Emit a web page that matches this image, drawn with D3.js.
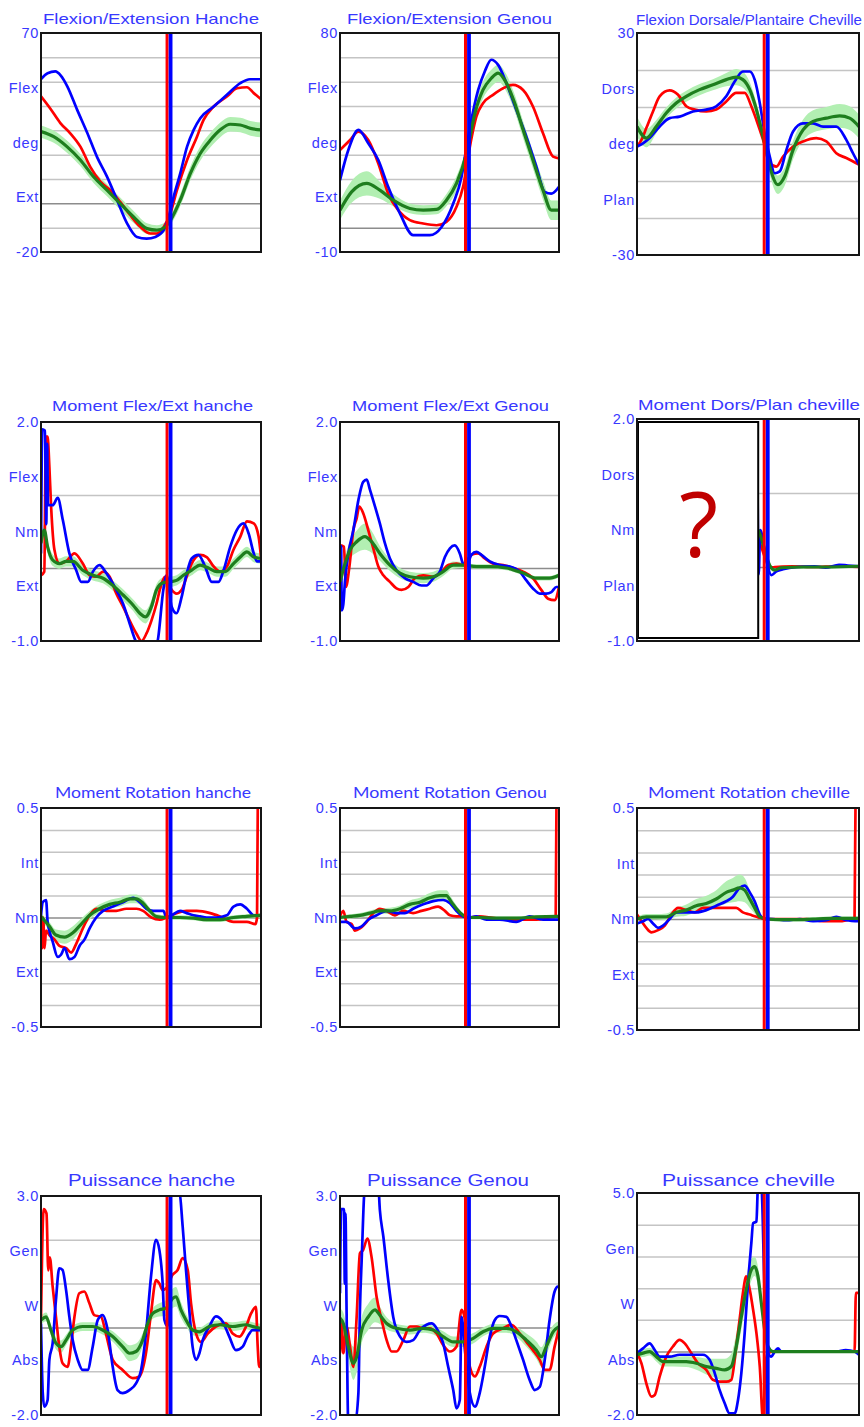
<!DOCTYPE html>
<html><head><meta charset="utf-8">
<script src="https://cdn.jsdelivr.net/npm/d3@7"></script>
<style>body{margin:0;background:#fff}svg{display:block}</style>
</head><body>
<svg id="chart" width="864" height="1427"></svg>
<script>
// ---------------- DATA (x = % of gait cycle) ----------------
const titles = ["Flexion/Extension Hanche","Flexion/Extension Genou","Flexion Dorsale/Plantaire Cheville",
  "Moment Flex/Ext hanche","Moment Flex/Ext Genou","Moment Dors/Plan cheville",
  "Moment Rotation hanche","Moment Rotation Genou","Moment Rotation cheville",
  "Puissance hanche","Puissance Genou","Puissance cheville"];
const yTopLabels = ["70","80","30","2.0","2.0","2.0","0.5","0.5","0.5","3.0","3.0","5.0"];
const yBottomLabels = ["-20","-10","-30","-1.0","-1.0","-1.0","-0.5","-0.5","-0.5","-2.0","-2.0","-2.0"];
const yMaxValues = [70,80,30,2,2,2,0.5,0.5,0.5,3,3,5];
const yMinValues = [-20,-10,-30,-1,-1,-1,-0.5,-0.5,-0.5,-2,-2,-2];
const gridSteps = [10,10,10,1,1,1,0.1,0.1,0.1,1,1,1];
const midLabels = [["Flex","deg","Ext"],["Flex","deg","Ext"],["Dors","deg","Plan"],
  ["Flex","Nm","Ext"],["Flex","Nm","Ext"],["Dors","Nm","Plan"],
  ["Int","Nm","Ext"],["Int","Nm","Ext"],["Int","Nm","Ext"],
  ["Gen","W","Abs"],["Gen","W","Abs"],["Gen","W","Abs"]];
const toeOffRed = 57.3;
const toeOffBlue = 58.9;

const hipFlexRed = [[0,44],[4.2,39],[8.8,33],[13.3,28.8],[17.9,23.3],[22.4,15],[27,8.9],[31.5,5.4],[36,0.6],[40.6,-4.9],[45.2,-9.7],[49.7,-12.4],[52.7,-12.4],[55.8,-9.7],[58.8,-4.2],[61.8,5.4],[66.4,17.8],[70.9,27.4],[73.9,34.3],[78.5,39.8],[84.5,43.9],[89.1,47.3],[93.6,47.7],[96.7,45.3],[100,42.8]];
const hipFlexBlue = [[0,51],[3,53.5],[6.5,54.2],[9,52.5],[12,48],[16.4,38.5],[21,29],[25.5,19],[30,11],[34.5,1.5],[39,-8],[43.6,-13.8],[48,-14.5],[52,-13.8],[55.8,-11],[58,-5.6],[60.3,2.7],[63.3,12.3],[66.4,23.3],[69.4,30.2],[72.4,35],[78.5,39.8],[84.5,44.6],[90.6,49.4],[95,51],[100,51]];
const hipFlexGreen = [[0,29.5,2.5],[5.8,27.4,2.5],[11.8,23.3,2.5],[17.9,17.8,2.5],[23.9,10.9,2.5],[30,5.4,2.5],[36,-0.1,2.5],[42.1,-5.6,2.5],[48.2,-10.4,2.2],[52.7,-11,2],[56.5,-9.7,2],[58.8,-7,2],[63.3,1.3,2.5],[67.9,12.3,2.8],[72.4,20.5,3],[77,26,3],[81.5,30.2,3],[86,32.5,3],[90.6,32.2,3],[95.2,30.8,3],[100,30.2,3]];

const kneeFlexRed = [[0,31.9],[4.6,36],[8.4,39.5],[12.9,36],[17.5,26.4],[22,14],[26.6,7.2],[31.9,3.1],[38,1.7],[44.1,1],[48.6,2.4],[53.2,8.6],[56.2,16.8],[59.3,33.3],[62.3,45.7],[65.3,51.1],[69.9,54.6],[74.5,57.3],[79,58.7],[83.6,56.6],[88.1,49.8],[92.7,38.8],[97.3,29.2],[100,28.5]];
const kneeFlexBlue = [[0,19.5],[3.8,31.9],[8.4,40.2],[12.9,34.7],[17.5,27.8],[22,16.8],[27.4,5.8],[33.4,-3.1],[41,-3.1],[46.4,0.3],[51.7,9.9],[55.5,20.9],[57.8,33.3],[60,44.3],[63.1,56.6],[66.1,64.2],[69.1,69],[72.2,66.9],[76,59.4],[80.5,48.4],[85.1,37.4],[89.7,25],[93.5,14.7],[96.5,14],[100,16.8]];
const kneeFlexGreen = [[0,7.2,4],[5.3,14.7,4.5],[12.2,18.2,5],[18.2,15.4,3.5],[24.3,11.3,2.5],[31.9,7.9,2],[38,7.2,2],[44.1,7.5,2],[48.6,11.3,2.5],[53.2,18.2,3],[57.8,30.5,3],[61.6,47,3],[65.3,56.6,3.5],[69.1,61.4,3.5],[72.2,63.5,3.5],[76,59.4,3.5],[79.8,51.1,3.5],[83.6,40.2,3.5],[88.1,27.8,3.5],[92.7,15.4,4],[96.5,7.2,4],[100,7.2,4]];

const ankleFlexRed = [[0,-0.7],[2,1.1],[4.2,4.3],[7.2,8.8],[10.2,12.9],[14.7,14.5],[18.5,13.3],[22.2,10.2],[26,9.3],[31.2,8.8],[35.7,9.3],[40.2,11.5],[44.7,13.8],[48.5,13.8],[51.5,10.2],[53.8,6.5],[56.8,1.1],[59.8,-5.2],[62.8,-6.1],[65.8,-3.4],[70.3,-0.7],[74.8,0.7],[80.8,1.6],[85.3,0.7],[89.8,-2.5],[94.3,-3.8],[98.8,-5.2],[100,-5.6]];
const ankleFlexBlue = [[0,-0.7],[2.7,0.2],[5.7,1.6],[10.2,4.7],[14.7,7],[19.2,7.4],[25.2,8.8],[31.2,9.3],[35.7,10.2],[40.2,12.9],[44,16.9],[47.7,19.6],[50.8,19.6],[53,17.4],[55.3,11.1],[57.5,2.9],[59.8,-3.4],[62,-7.9],[64.3,-7.4],[67.3,-1.6],[70.3,3.4],[74.8,5.6],[79.3,5.6],[83.8,4.7],[89.8,4.7],[94.3,1.1],[97.3,-2.5],[100,-5.6]];
const ankleFlexGreen = [[0,4.7,2.7],[4.2,1.6,2.5],[8.7,4.7,1.8],[13.2,8.4,1.5],[17.7,11.1,1.5],[22.2,12.9,1.5],[28.2,14.7,1.5],[34.2,16,1.5],[40.2,17.4,1.8],[44.7,18.1,2.2],[47.7,17.4,2.2],[50.8,14.7,2],[53.8,9.3,1.8],[56.8,2,1.8],[59.8,-6.1,2.2],[63.5,-11,2.5],[66.5,-8.8,2.5],[70.3,-1.6,2.5],[74.8,3.8,2.8],[79.3,6.1,3],[85.3,7,3],[91.3,7.6,3.2],[95.8,7,3.2],[100,4.7,3.2]];

const hipMomRed = [[0,-0.1],[1.5,-0.05],[2.2,1.8],[3,1.8],[3.8,1.39],[4.6,0.84],[6.1,0.25],[8.4,0.06],[11.4,0.09],[15.2,0.2],[19,0.06],[22.1,-0.1],[25.1,-0.12],[28.2,-0.05],[31.2,-0.12],[34.2,-0.35],[37.3,-0.53],[40.3,-0.72],[43.4,-0.9],[45.7,-1.0],[47.9,-0.9],[50.2,-0.72],[52.5,-0.49],[54,-0.3],[56.3,-0.12],[59.4,-0.3],[61.6,-0.35],[63.9,-0.3],[66.2,-0.12],[68.5,0.06],[72.3,0.18],[75.3,0.15],[78.5,0.02],[81.4,-0.05],[84.5,0.02],[87.5,0.25],[90.6,0.43],[93.6,0.64],[96.7,0.61],[98.9,0.43],[100,0.15]];
const hipMomBlue = [[0,0.2],[0.6,1.9],[1.8,1.88],[2.4,0.6],[2.8,1.7],[3.2,0.86],[5.3,0.86],[7.6,0.96],[9.9,0.66],[12.9,0.2],[16,-0.03],[18.3,-0.19],[21.3,-0.19],[23.6,-0.05],[26.6,0.04],[29.7,-0.07],[33.5,-0.26],[37.3,-0.49],[40.3,-0.76],[42.6,-0.97],[44.9,-1.1],[48,-1.3],[51,-1.2],[53.3,-0.95],[55.6,-0.3],[57.1,-0.1],[59.4,-0.53],[61.6,-0.62],[63.9,-0.4],[66.2,-0.08],[68.5,0.13],[71.5,0.18],[74.6,0.02],[77.6,-0.19],[80.7,-0.19],[83,-0.03],[86,0.29],[89,0.52],[92.1,0.61],[94.4,0.47],[96.7,0.2],[98.2,0.09],[100,0.09]];
const hipMomGreen = [[0,0.34,0.08],[1.5,0.52,0.08],[3,0.29,0.08],[5.3,0.11,0.08],[8.4,0.06,0.07],[11.4,0.09,0.07],[14.5,0.09,0.07],[19,-0.03,0.07],[23.6,-0.1,0.07],[28.2,-0.14,0.07],[32.7,-0.24,0.07],[37.3,-0.37,0.08],[41.9,-0.51,0.08],[44.9,-0.62,0.09],[47.5,-0.67,0.09],[50.2,-0.53,0.09],[52.5,-0.3,0.08],[55.6,-0.2,0.07],[58.6,-0.19,0.07],[61.6,-0.17,0.07],[64.7,-0.1,0.07],[68.5,-0.03,0.07],[72.3,0.04,0.07],[76.1,0,0.07],[79.9,-0.05,0.07],[83.7,-0.05,0.07],[87.5,0.06,0.07],[90.6,0.15,0.07],[93.6,0.22,0.07],[96.7,0.15,0.07],[100,0.13,0.07]];

const kneeMomRed = [[0,-0.21],[0.3,0.31],[1.8,0.29],[2.7,-0.26],[4.3,0.02],[6.1,0.52],[7.6,0.68],[8.8,0.84],[10.6,0.75],[12.9,0.52],[15.2,0.27],[17.5,0.02],[19.8,-0.1],[22.8,-0.19],[25.8,-0.28],[28.1,-0.3],[31.2,-0.26],[34.2,-0.14],[38,-0.1],[42.6,-0.12],[46.4,-0.05],[49.4,0.04],[53.2,0.06],[56.2,0.04],[60,0.18],[63.1,0.2],[66.1,0.13],[69.9,0.06],[74.5,0.04],[79,0],[83.6,-0.05],[88.1,-0.14],[91.9,-0.3],[95,-0.42],[98,-0.44],[100,-0.26]];
const kneeMomBlue = [[0,-0.05],[0.5,0.3],[0.8,-0.58],[1.5,-0.5],[2.3,-0.17],[3.8,0.2],[6.1,0.52],[8.4,0.93],[10.6,1.18],[12.2,1.21],[13.7,1.07],[16,0.84],[18.2,0.61],[20.5,0.34],[22.8,0.13],[25.8,-0.03],[29.6,-0.14],[33.4,-0.19],[37.2,-0.24],[39.5,-0.24],[42.6,-0.14],[45.6,-0.05],[47.9,0.15],[50.2,0.27],[52.4,0.31],[54.7,0.2],[56.2,0.06],[57.8,0.04],[60,0.18],[62.3,0.22],[64.6,0.18],[68.4,0.09],[72.9,0.04],[77.5,0.02],[82.1,-0.05],[85.1,-0.17],[88.1,-0.28],[91.2,-0.35],[94.2,-0.35],[96.5,-0.33],[98.8,-0.26],[100,-0.26]];
const kneeMomGreen = [[0,-0.19,0.08],[2.3,0.06,0.1],[4.6,0.25,0.12],[7.6,0.36,0.15],[11.4,0.43,0.18],[14.4,0.36,0.15],[18.2,0.2,0.1],[22.8,0.04,0.08],[27.4,-0.07,0.07],[31.9,-0.12,0.07],[38,-0.14,0.07],[42.6,-0.12,0.07],[47.1,-0.05,0.06],[51.7,0.04,0.05],[56.2,0.04,0.04],[62.3,0.02,0.03],[68.4,0.02,0.03],[76,0,0.03],[83.6,-0.07,0.03],[89.7,-0.14,0.03],[95.7,-0.14,0.03],[100,-0.1,0.03]];

const ankleMomRed = [[54.3,0.35],[55.3,0.32],[57.5,0.14],[59.8,-0.01],[62,0],[70,0.01],[80,0],[90,0.01],[100,0]];
const ankleMomBlue = [[54.3,1.05],[54.8,-0.1],[55.5,0.5],[57.5,0.23],[59,0],[60.5,-0.11],[62.8,-0.06],[65.8,-0.03],[72,0],[80,0.01],[85,-0.01],[91,0.03],[95,0.02],[100,0.01]];
const ankleMomGreen = [[54.5,0.5,0.05],[55.3,0.45,0.05],[57.5,0.23,0.05],[59.8,0.02,0.04],[62,-0.04,0.03],[65,-0.01,0.03],[75,0,0.02],[85,0,0.02],[100,0.01,0.02]];

const hipRotRed = [[0,-0.004],[0.5,-0.14],[1,0.0],[1.6,-0.14],[2.3,-0.06],[3.8,-0.08],[6.1,-0.1],[8.4,-0.13],[11.4,-0.14],[13.7,-0.16],[16,-0.12],[19,-0.05],[22.1,0.01],[25.1,0.04],[29.7,0.03],[34.2,0.03],[38.8,0.04],[43.4,0.04],[46.4,0.03],[50.2,0],[54,-0.01],[57.1,0],[61.6,0.02],[66.2,0.03],[70.8,0.03],[76.9,0.02],[81.4,0.005],[87.5,-0.02],[93.6,-0.02],[97.5,-0.03],[98.2,0],[98.6,0.6]];
const hipRotBlue = [[0,0.01],[0.8,0.07],[2.3,0.08],[3,-0.02],[3.8,-0.06],[5.3,-0.11],[7.6,-0.18],[9.1,-0.17],[10.7,-0.14],[12.9,-0.19],[15.2,-0.18],[17.5,-0.13],[19.8,-0.1],[22.1,-0.05],[25.1,0],[28.2,0.03],[32.7,0.05],[37.3,0.07],[41.9,0.09],[44.9,0.07],[47.9,0.04],[51,0.03],[55.6,0.03],[57.1,0],[59.4,0.01],[63.2,0.03],[66.2,0.02],[69.3,0.01],[72.3,0.005],[75.3,0],[79.9,0],[84.5,0.01],[87.5,0.05],[90.6,0.06],[93.6,0.04],[96.7,0.01],[100,0.01]];
const hipRotGreen = [[0,0.004,0.015],[3.8,-0.04,0.02],[6.8,-0.08,0.025],[10.7,-0.09,0.03],[14.5,-0.07,0.03],[18.3,-0.03,0.025],[22.1,0.01,0.02],[26.6,0.04,0.02],[31.2,0.06,0.02],[35.8,0.07,0.02],[40.3,0.085,0.02],[43.4,0.085,0.02],[46.4,0.065,0.02],[49.5,0.03,0.015],[52.5,0.004,0.012],[57.1,0,0.01],[63.2,0,0.01],[69.3,-0.003,0.01],[75.3,-0.01,0.01],[81.4,-0.01,0.01],[87.5,0,0.01],[93.6,0.005,0.01],[100,0.01,0.01]];

const kneeRotRed = [[0,0.005],[1.5,0.03],[3,-0.02],[5.3,-0.03],[6.8,-0.06],[9.1,-0.05],[12.2,-0.02],[15.2,0.02],[18.2,0.04],[21.3,0.03],[25.1,0.01],[28.9,0.03],[33.4,0.02],[37.2,0.03],[41,0.04],[44.8,0.05],[47.9,0.03],[50.2,0.01],[53.2,0.005],[56.2,0.005],[59.3,0],[63.8,0.005],[68.4,0],[76,-0.01],[83.6,-0.01],[89.7,-0.01],[95.7,0],[98.5,0.005],[98.9,0.6]];
const kneeRotBlue = [[0,-0.02],[3,-0.02],[6.8,-0.05],[9.9,-0.04],[12.9,-0.01],[16.7,0.01],[21.3,0.03],[25.8,0.02],[29.6,0.02],[33.4,0.04],[38,0.06],[42.6,0.075],[47.1,0.08],[50.2,0.065],[53.2,0.03],[56.2,0.005],[58.5,0],[62.3,0.005],[66.9,-0.01],[72.9,-0.01],[80.5,-0.02],[86.6,0.005],[92.7,-0.01],[100,-0.01]];
const kneeRotGreen = [[0,0,0.01],[4.6,0.005,0.01],[9.1,0.01,0.01],[13.7,0.02,0.012],[18.2,0.03,0.012],[22.8,0.03,0.015],[27.4,0.04,0.015],[31.9,0.06,0.018],[36.5,0.07,0.02],[41,0.09,0.022],[45.6,0.1,0.025],[48.6,0.1,0.025],[50.9,0.07,0.02],[53.2,0.04,0.015],[56.2,0.01,0.01],[58.5,0,0.008],[63.8,0,0.008],[71.4,-0.003,0.008],[80.5,-0.003,0.008],[89.7,0.003,0.008],[100,0.005,0.008]];

const ankleRotRed = [[0,0.02],[2,-0.01],[4.2,-0.04],[6.5,-0.06],[9.5,-0.05],[12.5,-0.03],[15.5,0.02],[18.5,0.05],[22.2,0.04],[26,0.03],[29.7,0.05],[34.2,0.05],[40.2,0.05],[44.7,0.05],[47.7,0.03],[50.8,0.02],[53.8,0.01],[58.3,0],[64.3,0],[70.3,0],[76.3,0],[83.8,-0.01],[91.3,-0.01],[96.5,0],[98,0.005],[98.5,0.6]];
const ankleRotBlue = [[0,-0.02],[2.7,-0.01],[5,0],[7.2,-0.02],[9.5,-0.04],[11.7,-0.03],[14.7,0],[17.7,0.03],[22.2,0.03],[26.7,0.03],[31.2,0.04],[35.7,0.06],[40.2,0.08],[43.2,0.1],[46.2,0.14],[48.5,0.15],[50.8,0.12],[53,0.08],[55.3,0.02],[57.5,0],[61.3,0],[67.3,-0.005],[73.3,0],[79.3,-0.01],[85.3,-0.005],[89.8,0.01],[94.3,-0.005],[100,-0.01]];
const ankleRotGreen = [[0,0,0.01],[4.2,0.01,0.012],[8.7,0.01,0.012],[13.2,0.01,0.015],[17.7,0.03,0.02],[22.2,0.04,0.025],[26.7,0.06,0.03],[31.2,0.07,0.035],[35.7,0.09,0.04],[40.2,0.12,0.05],[43.2,0.13,0.055],[46.2,0.14,0.06],[48.5,0.13,0.055],[50.8,0.09,0.04],[53,0.05,0.025],[55.3,0.01,0.012],[58.3,0,0.008],[64.3,-0.003,0.008],[71.8,-0.003,0.008],[79.3,0,0.008],[88.3,0.003,0.008],[94.3,0.003,0.008],[100,0.003,0.008]];

const hipPowRed = [[0,0.2],[1.2,2.7],[2.5,2.6],[3.3,1.3],[4,1.6],[5.3,0.93],[6.8,0.24],[8.3,-0.44],[9.8,-0.82],[12.1,-0.9],[13.6,-0.44],[15.2,0.24],[17.4,0.78],[19.7,0.82],[22,0.55],[24.2,0.28],[27.3,0.24],[29.5,-0.14],[32.6,-0.74],[37.1,-0.97],[41.7,-1.16],[44.7,-1.12],[47.7,-0.59],[50,0.32],[52.3,1.08],[53.8,1.0],[55.3,0.85],[57,0.9],[59.8,1.2],[62.1,1.31],[64.4,1.58],[66.7,1.31],[68.2,0.55],[70.5,-0.14],[72.7,-0.33],[75.8,-0.14],[79.5,0.02],[84.1,0.09],[87.1,-0.14],[90.2,-0.21],[93.2,0.02],[95.5,0.32],[97.7,0.47],[98.5,-0.44],[99.2,-0.9],[100,-0.9]];
const hipPowBlue = [[0,0.09],[0.8,-1.5],[1.5,-1.81],[3,-1.66],[3.8,-0.74],[5.3,-0.36],[6.8,0.63],[8.3,1.35],[9.8,1.31],[11.4,0.85],[12.9,0.24],[14.4,-0.29],[16.7,-0.74],[18.9,-0.97],[21.2,-0.97],[23.5,-0.44],[25.8,0.17],[28,0.28],[30.3,-0.06],[32.6,-0.9],[34.8,-1.43],[37.1,-1.5],[40.2,-1.43],[43.2,-1.28],[45.5,-0.97],[47.7,-0.14],[50,1.16],[52.3,2.0],[53.8,1.77],[55.3,1.0],[56.1,0.17],[57.6,0.02],[59.1,3.2],[62.9,3.1],[64.4,2.3],[65.9,1.31],[67.4,0.4],[68.9,-0.44],[70.5,-0.74],[72,-0.59],[73.5,-0.29],[76.5,0.02],[79.5,0.25],[82.6,0.13],[85.6,-0.21],[88.6,-0.52],[91.7,-0.44],[93.9,-0.21],[96.2,-0.06],[100,-0.06]];
const hipPowGreen = [[0,0.17,0.1],[2.3,0.24,0.1],[4.5,-0.06,0.12],[6.8,-0.36,0.14],[9.1,-0.44,0.14],[11.4,-0.29,0.12],[14.4,-0.06,0.1],[18.9,0.02,0.1],[23.5,0.02,0.1],[28,-0.06,0.1],[32.6,-0.21,0.12],[37.1,-0.44,0.15],[40.2,-0.59,0.18],[43.2,-0.55,0.18],[46.2,-0.29,0.15],[48.5,0.09,0.12],[50.8,0.32,0.12],[53.8,0.4,0.15],[56.8,0.44,0.18],[59.8,0.66,0.22],[61.4,0.7,0.22],[63.6,0.4,0.18],[65.9,0.17,0.14],[68.9,-0.06,0.12],[72,-0.1,0.1],[76.5,0.02,0.1],[81.1,0.06,0.1],[87.1,0.02,0.1],[93.2,0.06,0.1],[96.2,0.02,0.1],[100,-0.02,0.1]];

const kneePowRed = [[0,-0.59],[0.8,0.09],[1.5,-0.59],[3,0.02],[4.6,-0.44],[6.1,-0.9],[7.6,0.24],[9.1,1.69],[10.6,1.77],[12.5,2.03],[14.4,1.61],[16.7,0.7],[19,0.17],[21.3,-0.29],[23.6,-0.55],[25.8,-0.55],[28.9,-0.29],[31.9,0.02],[35,0.02],[38,-0.02],[41,-0.02],[44.1,-0.14],[47.1,-0.4],[50.2,-0.55],[53.2,-0.44],[55.5,0.4],[57,0.2],[59.3,-0.9],[61.6,-1.12],[63.8,-0.9],[66.9,-0.44],[69.9,-0.14],[74.5,-0.02],[78.3,0.06],[82.1,-0.14],[85.1,-0.33],[88.1,-0.52],[91.2,-0.74],[93.5,-0.97],[95.7,-0.97],[98,-0.44],[100,-0.02]];
const kneePowBlue = [[0,0.78],[0.5,2.7],[1.8,2.7],[2.2,1.0],[2.5,2.6],[3,0.4],[3.8,-2.2],[6.8,-2.2],[8.4,-1.5],[9.1,0.4],[9.9,1.54],[11.4,3.2],[17.5,3.2],[18.2,2.68],[19.8,2.07],[22,1.08],[24.3,0.24],[27.4,-0.21],[30.4,-0.33],[33.4,-0.29],[36.5,-0.06],[39.5,0.06],[41.8,0.09],[44.1,-0.02],[47.1,-0.36],[49.4,-0.9],[51.7,-1.43],[53.2,-1.85],[54.7,-1.66],[55.5,0.24],[57,-0.5],[59.3,-1.5],[61.6,-1.81],[63.8,-1.5],[66.1,-0.9],[68.4,-0.21],[70.7,0.17],[72.9,0.26],[76,0.24],[78.3,0.02],[80.5,-0.29],[83.6,-0.74],[86.6,-1.2],[88.9,-1.43],[91.2,-1.36],[93.5,-0.74],[95.7,0.17],[98,0.82],[99.5,0.93],[100,0.93]];
const kneePowGreen = [[0,0.21,0.22],[1.5,0.09,0.25],[3.8,-0.44,0.3],[6.1,-0.82,0.38],[7.6,-0.67,0.35],[9.9,-0.06,0.3],[12.9,0.24,0.3],[16,0.4,0.28],[18.2,0.28,0.2],[21.3,0.09,0.14],[25.8,-0.02,0.1],[31.9,-0.06,0.1],[38,-0.02,0.1],[42.6,-0.06,0.1],[47.1,-0.21,0.12],[51.7,-0.33,0.12],[56.2,-0.33,0.12],[60.8,-0.25,0.12],[65.3,-0.1,0.1],[69.9,-0.02,0.1],[76,-0.02,0.1],[80.5,-0.1,0.12],[85.1,-0.29,0.15],[89.7,-0.52,0.2],[91.9,-0.67,0.22],[94.2,-0.44,0.2],[97.3,-0.1,0.15],[100,0.02,0.12]];

const anklePowRed = [[0,-0.05],[2,-0.37],[4.2,-1],[6.5,-1.42],[8,-1.37],[10.2,-0.79],[13.2,-0.16],[16.2,0.16],[19.2,0.37],[21.5,0.26],[24.5,-0.05],[27.5,-0.37],[31.2,-0.58],[34.2,-0.89],[37.2,-0.95],[40.2,-0.95],[42.5,-0.89],[44.7,0.16],[46.2,1.0],[47.7,1.84],[49.2,2.37],[50.8,1.95],[52.3,1.32],[53.8,0.58],[55.3,-0.47],[56.8,-2.2],[58,-0.3],[59,-0.05],[61.3,0],[80,0],[98,0],[98.6,1.85],[100,1.85]];
const anklePowBlue = [[0,-0.05],[2.7,0.1],[5.7,0.26],[8,0.05],[10.2,-0.16],[14.7,-0.16],[19.2,-0.1],[25.2,-0.1],[29.7,-0.1],[32.7,-0.26],[35,-0.68],[37.2,-1.21],[39.5,-1.63],[41.7,-1.95],[44,-1.95],[45.5,-1.53],[47,-0.68],[48.5,0.58],[50,2.16],[51.5,3.42],[52.3,4.05],[53.8,4.1],[54.5,5.2],[56,5.2],[57.5,1.84],[59,-0.05],[60.5,-0.16],[62,0],[63.5,0.1],[65,0],[67.3,0],[80,0],[90,0],[94,0.05],[98,0],[100,-0.1]];
const anklePowGreen = [[0,-0.1,0.1],[2.7,-0.05,0.12],[5.7,0,0.12],[8.7,-0.16,0.15],[11.7,-0.32,0.15],[16.2,-0.32,0.15],[22.2,-0.32,0.17],[26.7,-0.37,0.2],[31.2,-0.47,0.25],[35.7,-0.53,0.3],[39.5,-0.58,0.35],[42.5,-0.47,0.4],[44.7,0.16,0.4],[47,1.1,0.4],[49.2,1.95,0.4],[51.5,2.58,0.35],[53,2.68,0.3],[54.5,2.37,0.3],[56,1.53,0.25],[57.5,0.68,0.2],[59,0.16,0.1],[61.3,0,0.05],[70,0,0.03],[100,0,0.03]];

const redSeries = [hipFlexRed,kneeFlexRed,ankleFlexRed,hipMomRed,kneeMomRed,ankleMomRed,hipRotRed,kneeRotRed,ankleRotRed,hipPowRed,kneePowRed,anklePowRed];
const blueSeries = [hipFlexBlue,kneeFlexBlue,ankleFlexBlue,hipMomBlue,kneeMomBlue,ankleMomBlue,hipRotBlue,kneeRotBlue,ankleRotBlue,hipPowBlue,kneePowBlue,anklePowBlue];
const greenSeries = [hipFlexGreen,kneeFlexGreen,ankleFlexGreen,hipMomGreen,kneeMomGreen,ankleMomGreen,hipRotGreen,kneeRotGreen,ankleRotGreen,hipPowGreen,kneePowGreen,anklePowGreen];

// ---------------- LAYOUT ----------------
const frames = [
 [41,33,261,252],[340,33,559,252],[637,33,859,255],
 [41,422,261,641],[340,422,559,641],[637,419,859,641],
 [41,808,261,1027],[340,808,559,1027],[637,808,859,1030],
 [41,1196,261,1415],[340,1196,559,1415],[637,1193,859,1415]];
const titleBox = [
 [43,259,24],[347,552,24],[636,862,25],
 [52,253,411],[352,549,411],[638,860,410],
 [55,251,798],[353,547,798],[648,850,798],
 [68,235,1186],[367,529,1186],[662,835,1186]];
const rowTitleFont = ["Liberation Sans, Arial, sans-serif","Liberation Sans, Arial, sans-serif","Lato, 'Open Sans', sans-serif","Liberation Sans, Arial, sans-serif"];
const rowTitleSize = [15,15,16,16];
const BLUE_TXT = "#3838ff";

const svg = d3.select("#chart");
const defs = svg.append("defs");

frames.forEach((fr, i) => {
  const [x0,y0,x1,y1] = fr;
  const row = Math.floor(i/3);
  const x = d3.scaleLinear().domain([0,100]).range([x0,x1]);
  const y = d3.scaleLinear().domain([yMinValues[i], yMaxValues[i]]).range([y1,y0]);
  const g = svg.append("g");

  defs.append("clipPath").attr("id","clip"+i)
    .append("rect").attr("x",x0).attr("y",y0).attr("width",x1-x0).attr("height",y1-y0);

  // grid lines via axis
  const n = Math.round((yMaxValues[i]-yMinValues[i])/gridSteps[i]);
  const gridVals = d3.range(1,n).map(k => yMinValues[i] + k*gridSteps[i]);
  const grid = g.append("g").attr("transform",`translate(${x0},0)`)
    .call(d3.axisLeft(y).tickValues(gridVals).tickSize(-(x1-x0)).tickFormat(""));
  grid.select(".domain").remove();
  grid.selectAll(".tick line")
    .attr("stroke", d => Math.abs(d) < 1e-9 ? "#8c8c8c" : "#c4c4c4")
    .attr("stroke-width", 1.5);

  // labels axis
  const yMin = yMinValues[i], yMax = yMaxValues[i];
  const labVals = [yMax, yMin + 0.75*(yMax-yMin), yMin + 0.5*(yMax-yMin), yMin + 0.25*(yMax-yMin), yMin];
  const labTxt = [yTopLabels[i], ...midLabels[i], yBottomLabels[i]];
  const ax = g.append("g").attr("transform",`translate(${x0},0)`)
    .call(d3.axisLeft(y).tickValues(labVals).tickSize(0).tickPadding(2).tickFormat((d,k)=>labTxt[k]));
  ax.select(".domain").remove();
  ax.attr("font-family","Liberation Sans, Arial, sans-serif").attr("font-size",14.5);
  ax.selectAll("text").attr("fill",BLUE_TXT).attr("letter-spacing",0.7);

  const plot = g.append("g").attr("clip-path",`url(#clip${i})`);

  // band
  const area = d3.area().x(d=>x(d[0])).y0(d=>y(d[1]-d[2])).y1(d=>y(d[1]+d[2])).curve(d3.curveMonotoneX);
  plot.append("path").datum(greenSeries[i]).attr("d",area).attr("fill","#b2efb2");

  const line = d3.line().x(d=>x(d[0])).y(d=>y(d[1])).curve(d3.curveMonotoneX);
  plot.append("path").datum(redSeries[i]).attr("d",line).attr("fill","none").attr("stroke","#ff0000").attr("stroke-width",2.7).attr("stroke-linejoin","round");
  plot.append("path").datum(blueSeries[i]).attr("d",line).attr("fill","none").attr("stroke","#0000ff").attr("stroke-width",2.7).attr("stroke-linejoin","round");
  plot.append("path").datum(greenSeries[i]).attr("d",line).attr("fill","none").attr("stroke","#1e7e1e").attr("stroke-width",3.2).attr("stroke-linejoin","round");

  // toe-off event lines
  plot.append("line").attr("x1",x(toeOffRed)).attr("x2",x(toeOffRed)).attr("y1",y0).attr("y2",y1)
    .attr("stroke","#ff0000").attr("stroke-width",3);
  plot.append("line").attr("x1",x(toeOffBlue)).attr("x2",x(toeOffBlue)).attr("y1",y0).attr("y2",y1)
    .attr("stroke","#0000ff").attr("stroke-width",3.8);

  // masking box in ankle moment panel
  if (i === 5) {
    g.append("rect").attr("x",x0+1).attr("y",y0+3).attr("width",x(54.6)-x0-1).attr("height",y1-y0-6)
      .attr("fill","#fff").attr("stroke","#000").attr("stroke-width",2);
    g.append("text").attr("x",(x0+x(54.6))/2+1).attr("y",557).attr("text-anchor","middle")
      .attr("font-family","'Open Sans', 'Noto Sans', sans-serif").attr("font-size",90)
      .attr("fill","#c00000").text("?");
  }

  // frame
  g.append("rect").attr("x",x0).attr("y",y0).attr("width",x1-x0).attr("height",y1-y0)
    .attr("fill","none").attr("stroke","#151515").attr("stroke-width",2);

  // title
  const [tx0,tx1,tb] = titleBox[i];
  g.append("text").attr("x",(tx0+tx1)/2).attr("y",tb).attr("text-anchor","middle")
    .attr("font-family",rowTitleFont[row]).attr("font-size",rowTitleSize[row])
    .attr("fill",BLUE_TXT).attr("textLength",tx1-tx0).attr("lengthAdjust","spacingAndGlyphs")
    .text(titles[i]);
});
</script>
</body></html>
